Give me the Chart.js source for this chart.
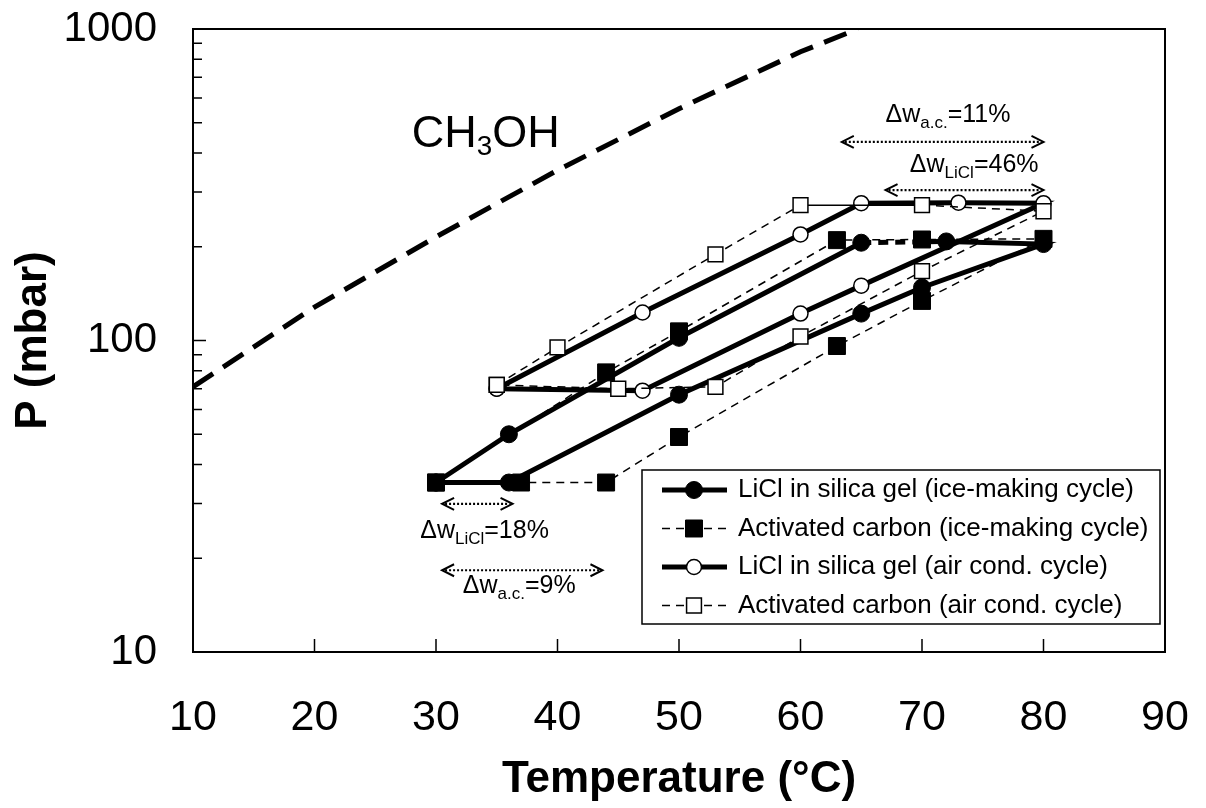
<!DOCTYPE html>
<html>
<head>
<meta charset="utf-8">
<script src="https://cdn.jsdelivr.net/npm/chart.js@4.4.1/dist/chart.umd.min.js"></script>
<style>
  html, body { margin: 0; padding: 0; background: #fff; }
  canvas { display: block; }
</style>
</head>
<body>
<canvas id="myChart" width="1206" height="808"></canvas>
<script>
const FONT = '"Liberation Sans", Arial, sans-serif';

// axis ticks
const xTicks = [10, 20, 30, 40, 50, 60, 70, 80, 90];
const yTicks = [10, 20, 30, 40, 50, 60, 70, 80, 90, 100, 200, 300, 400, 500, 600, 700, 800, 900, 1000];
const yLabels = [10, 100, 1000];

// methanol saturation line
const methanolT = [10, 20, 30, 40, 50, 60, 64.7];
const methanolP = [71, 128, 215, 352, 555, 845, 1000];

// LiCl in silica gel, ice-making cycle
const liclIceT = [30, 36, 50, 65, 72, 80, 70, 65, 50, 36, 30];
const liclIceP = [35, 50, 102, 206, 208, 204, 148, 122, 67, 35, 35];

// activated carbon, ice-making cycle
const acIceT = [30, 44, 50, 63, 70, 80, 70, 63, 50, 44, 37, 30];
const acIceP = [35, 79, 107, 210, 211, 212, 134, 96, 49, 35, 35, 35];

// LiCl in silica gel, air cond. cycle
const liclAirT = [35, 47, 60, 65, 73, 80, 65, 60, 47, 35];
const liclAirP = [70, 123, 219, 276, 277, 276, 150, 122, 69, 70];

// activated carbon, air cond. cycle
const acAirT = [35, 40, 53, 60, 70, 80, 70, 60, 53, 45, 35];
const acAirP = [72, 95, 189, 272, 272, 260, 167, 103, 71, 70, 72];

const seriesNames = [
  'LiCl in silica gel (ice-making cycle)',
  'Activated carbon (ice-making cycle)',
  'LiCl in silica gel (air cond. cycle)',
  'Activated carbon (air cond. cycle)'
];

// delta-w notes: arrow from T1 to T2 at pressure p, text at (tx, tp)
const notes = [
  { t1: 63.4, t2: 80, p: 434, tx: 67, tp: 503, sub: 'a.c.', val: '=11%' },
  { t1: 67, t2: 80, p: 304, tx: 69, tp: 348, sub: 'LiCl', val: '=46%' },
  { t1: 30.5, t2: 36.3, p: 29.9, tx: 28.7, tp: 23.2, sub: 'LiCl', val: '=18%' },
  { t1: 30.5, t2: 43.7, p: 18.3, tx: 32.2, tp: 15.5, sub: 'a.c.', val: '=9%' }
];

function pts(xs, ys) {
  return xs.map((x, i) => ({ x: x, y: ys[i] }));
}

function richText(ctx, parts, x, y, size, subScale, subShift) {
  let cx = x;
  parts.forEach(p => {
    const s = p.sub ? size * subScale : size;
    ctx.font = s + 'px ' + FONT;
    ctx.fillText(p.t, cx, y + (p.sub ? size * subShift : 0));
    cx += ctx.measureText(p.t).width;
  });
}

function arrow(ctx, x1, x2, y) {
  ctx.setLineDash([2, 2]);
  ctx.lineWidth = 2.2;
  ctx.beginPath();
  ctx.moveTo(x1 + 3, y);
  ctx.lineTo(x2 - 3, y);
  ctx.stroke();
  ctx.setLineDash([]);
  ctx.lineWidth = 2;
  ctx.beginPath();
  ctx.moveTo(x1 + 12, y - 6); ctx.lineTo(x1, y); ctx.lineTo(x1 + 12, y + 6);
  ctx.moveTo(x2 - 12, y - 6); ctx.lineTo(x2, y); ctx.lineTo(x2 - 12, y + 6);
  ctx.stroke();
}

function marker(ctx, ds, x, y) {
  const r = ds.pointRadius;
  ctx.setLineDash([]);
  ctx.lineWidth = ds.pointBorderWidth;
  ctx.fillStyle = ds.pointBackgroundColor;
  ctx.strokeStyle = '#000';
  ctx.beginPath();
  if (ds.pointStyle === 'rect') {
    const s = r * Math.SQRT1_2;
    ctx.rect(x - s, y - s, 2 * s, 2 * s);
  } else {
    ctx.arc(x, y, r, 0, Math.PI * 2);
  }
  ctx.fill();
  ctx.stroke();
}

const decor = {
  id: 'decor',
  afterDatasetsDraw(chart) {
    const { ctx, chartArea: a, scales: { x, y } } = chart;
    ctx.save();
    ctx.strokeStyle = '#000';
    ctx.lineWidth = 2;
    ctx.strokeRect(a.left, a.top, a.right - a.left, a.bottom - a.top);
    ctx.lineWidth = 1.5;
    ctx.beginPath();
    xTicks.forEach(v => {
      const px = x.getPixelForValue(v);
      ctx.moveTo(px, a.bottom);
      ctx.lineTo(px, a.bottom - 13);
    });
    yTicks.forEach(v => {
      const py = y.getPixelForValue(v);
      const len = yLabels.includes(v) ? 13 : 9;
      ctx.moveTo(a.left, py);
      ctx.lineTo(a.left + len, py);
    });
    ctx.stroke();
    ctx.restore();
  },
  afterDraw(chart) {
    const { ctx, scales: { x, y } } = chart;
    ctx.save();
    ctx.fillStyle = '#000';
    ctx.strokeStyle = '#000';
    ctx.textBaseline = 'alphabetic';

    // CH3OH label
    richText(ctx, [{ t: 'CH' }, { t: '3', sub: true }, { t: 'OH' }],
      x.getPixelForValue(28), y.getPixelForValue(418), 45, 0.62, 0.18);

    // delta w arrows and labels
    notes.forEach(n => {
      arrow(ctx, x.getPixelForValue(n.t1), x.getPixelForValue(n.t2), y.getPixelForValue(n.p));
      ctx.fillStyle = '#000';
      richText(ctx, [{ t: '\u0394w' }, { t: n.sub, sub: true }, { t: n.val }],
        x.getPixelForValue(n.tx), y.getPixelForValue(n.tp), 25, 0.68, 0.24);
    });

    // legend box
    const lx = 642, ly = 470, lw = 518, lh = 154;
    ctx.fillStyle = '#fff';
    ctx.fillRect(lx, ly, lw, lh);
    ctx.lineWidth = 1.5;
    ctx.strokeRect(lx, ly, lw, lh);
    const sets = chart.data.datasets.slice(1);
    sets.forEach((ds, i) => {
      const ry = ly + 20 + i * 38.5;
      ctx.strokeStyle = '#000';
      ctx.lineWidth = ds.borderWidth;
      ctx.setLineDash(ds.borderDash || []);
      ctx.beginPath();
      ctx.moveTo(662, ry);
      ctx.lineTo(727, ry);
      ctx.stroke();
      marker(ctx, ds, 694, ry);
      ctx.fillStyle = '#000';
      ctx.font = '26px ' + FONT;
      ctx.textBaseline = 'middle';
      ctx.fillText(seriesNames[i], 738, ry);
    });
    ctx.restore();
  }
};

const ctx = document.getElementById('myChart');

new Chart(ctx, {
  type: 'scatter',
  data: {
    datasets: [
      {
        label: 'CH3OH',
        data: pts(methanolT, methanolP),
        showLine: true,
        borderColor: '#000',
        borderWidth: 5,
        borderDash: [24, 12],
        pointRadius: 0,
        order: 10
      },
      {
        label: seriesNames[0],
        data: pts(liclIceT, liclIceP),
        showLine: true,
        borderColor: '#000',
        borderWidth: 5,
        pointStyle: 'circle',
        pointRadius: 8.5,
        pointBackgroundColor: '#000',
        pointBorderColor: '#000',
        pointBorderWidth: 1,
        segment: { borderDash: c => c.p0DataIndex === 3 ? [10, 7] : undefined },
        order: 4
      },
      {
        label: seriesNames[1],
        data: pts(acIceT, acIceP),
        showLine: true,
        borderColor: '#000',
        borderWidth: 1.5,
        borderDash: [8, 6],
        pointStyle: 'rect',
        pointRadius: 12,
        pointBackgroundColor: '#000',
        pointBorderColor: '#000',
        pointBorderWidth: 1,
        order: 1
      },
      {
        label: seriesNames[2],
        data: pts(liclAirT, liclAirP),
        showLine: true,
        borderColor: '#000',
        borderWidth: 5,
        pointStyle: 'circle',
        pointRadius: 7.5,
        pointBackgroundColor: '#fff',
        pointBorderColor: '#000',
        pointBorderWidth: 1.5,
        order: 3
      },
      {
        label: seriesNames[3],
        data: pts(acAirT, acAirP),
        showLine: true,
        borderColor: '#000',
        borderWidth: 1.5,
        borderDash: [8, 6],
        pointStyle: 'rect',
        pointRadius: 10.5,
        pointBackgroundColor: '#fff',
        pointBorderColor: '#000',
        pointBorderWidth: 1.5,
        segment: { borderDash: c => c.p0DataIndex === 3 ? [] : undefined },
        order: 2
      }
    ]
  },
  options: {
    responsive: false,
    animation: false,
    events: [],
    layout: { padding: { left: 0, top: 29, right: 41, bottom: 0 } },
    plugins: {
      legend: { display: false },
      tooltip: { enabled: false }
    },
    scales: {
      x: {
        type: 'linear',
        min: 10,
        max: 90,
        grid: { display: false, drawTicks: false },
        border: { display: false },
        afterBuildTicks: s => { s.ticks = xTicks.map(v => ({ value: v })); },
        afterFit: s => {
          s.height = 156;
          s.paddingLeft = 0;
          s.paddingRight = 0;
        },
        ticks: {
          autoSkip: false,
          maxRotation: 0,
          padding: 40,
          color: '#000',
          font: { family: FONT, size: 43 }
        },
        title: {
          display: true,
          text: 'Temperature (°C)',
          color: '#000',
          padding: { top: 0, bottom: 2 },
          font: { family: FONT, size: 44, weight: 'bold' }
        }
      },
      y: {
        type: 'logarithmic',
        min: 10,
        max: 1000,
        grid: { display: false, drawTicks: false },
        border: { display: false },
        afterBuildTicks: s => { s.ticks = yTicks.map(v => ({ value: v })); },
        afterFit: s => {
          s.width = 193;
          s.paddingTop = 0;
          s.paddingBottom = 0;
        },
        ticks: {
          autoSkip: false,
          padding: 36,
          color: '#000',
          font: { family: FONT, size: 42 },
          callback: v => yLabels.includes(v) ? String(v) : ''
        },
        title: {
          display: true,
          text: 'P (mbar)',
          color: '#000',
          padding: { top: 7, bottom: 0 },
          font: { family: FONT, size: 44, weight: 'bold' }
        }
      }
    }
  },
  plugins: [decor]
});
</script>
</body>
</html>
